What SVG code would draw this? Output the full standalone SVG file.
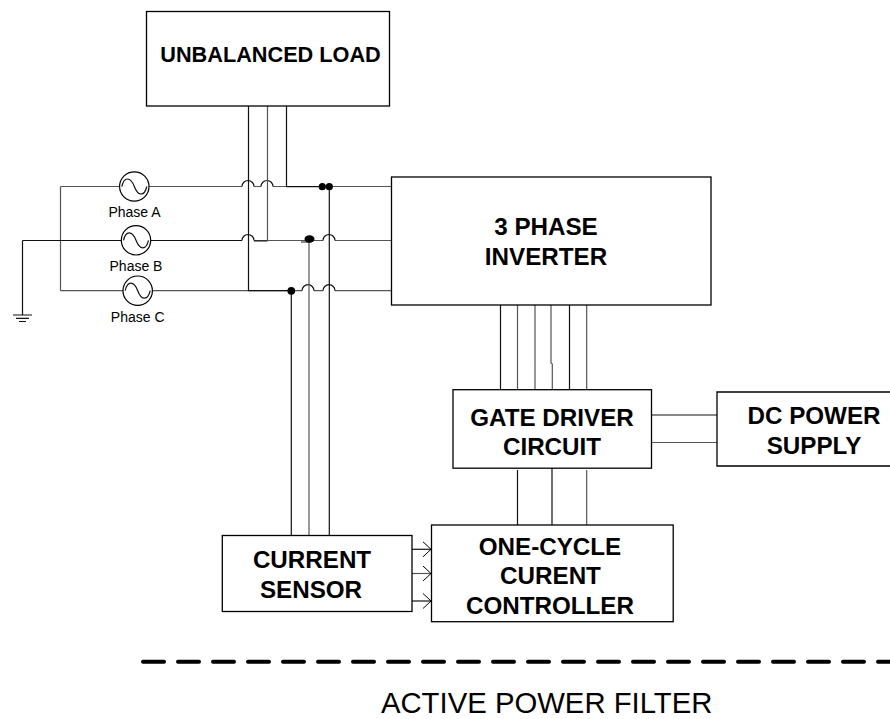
<svg xmlns="http://www.w3.org/2000/svg" width="890" height="719" viewBox="0 0 890 719">
<defs>
<style>
.b{fill:#fff;stroke:#000;stroke-width:1.3}
.w{fill:none;stroke:#111;stroke-width:1.2}
.g{fill:none;stroke:#555;stroke-width:1.2}
.t{font-family:"Liberation Sans",Arial,sans-serif;font-weight:bold;font-size:24.200px;text-anchor:middle;fill:#000}
.p{font-family:"Liberation Sans",Arial,sans-serif;font-size:14px;text-anchor:middle;fill:#000}
.s{fill:#fff;stroke:#000;stroke-width:1.2}
</style>
<marker id="a" markerWidth="10" markerHeight="16" refX="8" refY="8" orient="auto" markerUnits="userSpaceOnUse"><path d="M0 0.500L8 8L0 15.500" fill="none" stroke="#000" stroke-width="1"/></marker>
</defs>
<g id="connectors">
<path class="g" d="M60.500 186.500V290.700M60.500 186.500H120M149 186.500H242M254 186.500H261M273 186.500H393"/>
<path class="w" d="M22.500 240.500H122M150 240.500H242"/>
<path class="g" d="M254 240.500H323M335 240.500H392"/>
<path class="w" d="M22.500 240.500V315"/>
<path class="g" d="M60.500 290.700H124M152 290.700H302M314 290.700H323M335 290.700H393.500"/>
<path class="w" d="M393.500 286V291"/>
<path class="w" d="M242 186.500a6 6 0 0 1 12 0M261 186.500a6 6 0 0 1 12 0M242 240.500a6 6 0 0 1 12 0M323 240.500a6 6 0 0 1 12 0M302 290.700a6 6 0 0 1 12 0M323 290.700a6 6 0 0 1 12 0"/>
<path class="w" d="M248.500 106V290.700H291"/>
<path class="g" d="M267.500 106V240.500"/>
<path class="w" d="M254 241H267.500M286.500 106V186.700H322"/>
<path class="w" d="M291.300 291V535.500M329.300 186V535.500M301 242H311"/>
<path class="g" d="M309 239V535.500"/>
<path class="w" d="M500.500 305V390M569.500 305V390"/>
<path class="g" d="M517.500 305V390M535 305V390M551 305V363L552.300 364V390M586.700 305V390"/>
<path class="w" d="M517.500 470V525M552 468V525"/>
<path class="g" d="M586.700 470V529.500L588.500 530"/>
<path class="w" d="M651.500 415H717"/>
<path class="g" d="M651.500 442.500H717"/>
<path class="w" marker-end="url(#a)" d="M412 549.300H431"/>
<path class="g" marker-end="url(#a)" d="M412 573.500H431"/>
<path class="w" marker-end="url(#a)" d="M412 601H431"/>
<circle cx="322.300" cy="186.700" r="3.600"/><circle cx="329.300" cy="186.700" r="3.600"/>
<ellipse cx="309.500" cy="239" rx="5" ry="3.800"/><circle cx="291.300" cy="290.800" r="3.900"/>
</g>
<g id="phase-a"><circle class="s" cx="134.300" cy="186.500" r="14.700"/><path class="w" d="M121.800 186.500C124 176.500 130.500 176.500 134.300 186.500S144.500 196.500 146.800 186.500"/><text class="p" x="134.500" y="216.500">Phase A</text></g>
<g id="phase-b"><circle class="s" cx="136" cy="240.300" r="14.700"/><path class="w" d="M123.500 240.300C125.700 230.300 132.200 230.300 136 240.300S146.200 250.300 148.500 240.300"/><text class="p" x="136" y="271">Phase B</text></g>
<g id="phase-c"><circle class="s" cx="137.700" cy="290.700" r="14.700"/><path class="w" d="M125.200 290.700C127.400 280.700 133.900 280.700 137.700 290.700S147.900 300.700 150.200 290.700"/><text class="p" x="137.700" y="321.500">Phase C</text></g>
<g id="ground"><path class="w" d="M13 315H32M16 318.300H29M19 321.500H26"/></g>
<g id="unbalanced-load"><rect class="b" x="146.500" y="11.500" width="243" height="94.500"/><text class="t" style="font-size:21.700px" x="270.500" y="62">UNBALANCED LOAD</text></g>
<g id="inverter"><rect class="b" x="391.500" y="177" width="319.500" height="128"/><text class="t" x="546" y="235">3 PHASE</text><text class="t" x="546" y="265">INVERTER</text></g>
<g id="gate-driver"><rect class="b" x="453" y="389.700" width="198.500" height="78.500"/><text class="t" x="552" y="425.500">GATE DRIVER</text><text class="t" x="552" y="455">CIRCUIT</text></g>
<g id="dc-supply"><path class="b" d="M890 392H717V466H890"/><text class="t" x="814" y="424">DC POWER</text><text class="t" x="814" y="454">SUPPLY</text></g>
<g id="current-sensor"><rect class="b" x="222.300" y="535.500" width="189.700" height="76"/><text class="t" x="312" y="568">CURRENT</text><text class="t" x="311" y="598">SENSOR</text></g>
<g id="controller"><rect class="b" x="431.500" y="525" width="241.700" height="96.700"/><text class="t" x="550" y="555">ONE-CYCLE</text><text class="t" x="550.500" y="584">CURENT</text><text class="t" x="550" y="614">CONTROLLER</text></g>
<path d="M143 661.700H890" fill="none" stroke="#000" stroke-width="4" stroke-linecap="round" stroke-dasharray="21 14"/>
<text x="546.700" y="712.500" font-family="'Liberation Sans',Arial,sans-serif" font-size="29.300" text-anchor="middle">ACTIVE POWER FILTER</text>
</svg>
